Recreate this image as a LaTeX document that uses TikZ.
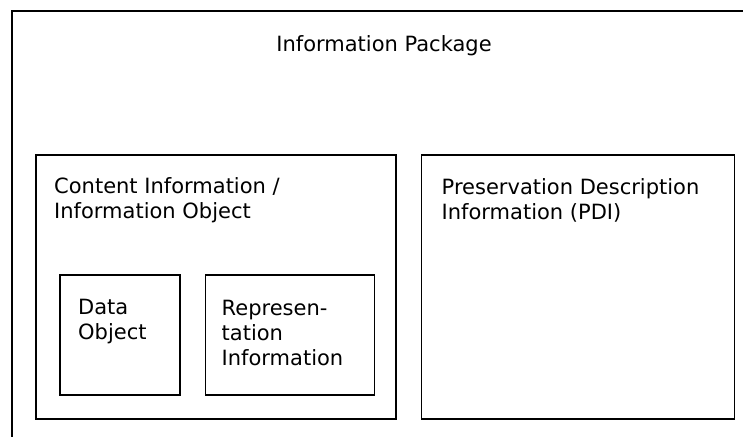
\documentclass[tikz,border=0pt]{standalone}
\usepackage{fontspec}
\setmainfont{DejaVu Sans}
\usetikzlibrary{positioning}
\begin{document}
\begin{tikzpicture}[x=1pt, y=-1pt, box/.style={draw, line width=1.5pt, inner sep=0pt}, boxtext/.style={align=left, inner sep=0pt, font=\fontsize{21}{25}\selectfont} ]
		\useasboundingbox (0,0) rectangle (743,436);
		\clip (0,0) rectangle (743,436);
		\node[box, line width=2pt, anchor=north west, minimum width=744pt, minimum height=460pt] (package) at (11,10) {};
		\node[boxtext, below=25pt of package.north] (packagetext) {Information Package};
		\node[box, anchor=north west, minimum width=360pt, minimum height=264pt] (content) at (35,154) {};
		\node[box, right=24pt of content, minimum width=313pt, minimum height=264pt] (pdi) {};
		\node[box, anchor=north west, minimum width=120pt, minimum height=120pt] (data) at (59,274) {};
		\node[box, right=24pt of data, minimum width=169pt, minimum height=120pt] (repr) {};
		\node[boxtext, below right=23pt and 19pt of content.north west] (contenttext) {Content Information /\\Information Object};
		\node[boxtext, below right=24pt and 21pt of pdi.north west] (pditext) {Preservation Description\\Information (PDI)};
		\node[boxtext, below right=25pt and 19pt of data.north west] (datatext) {Data\\Object};
		\node[boxtext, below right=26pt and 17pt of repr.north west] (reprtext) {Represen-\\tation\\Information};
	\end{tikzpicture}
\end{document}
